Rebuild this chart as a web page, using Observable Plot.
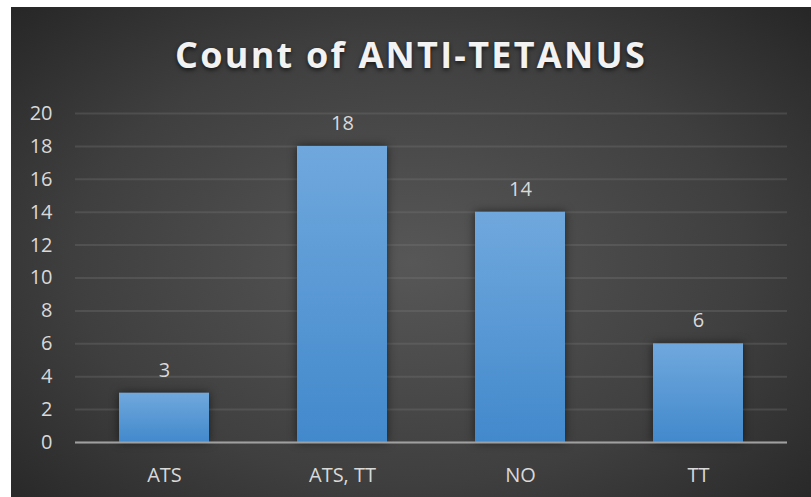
<!DOCTYPE html>
<html>
<head>
<meta charset="utf-8">
<script src="https://cdn.jsdelivr.net/npm/d3@7"></script>
<script src="https://cdn.jsdelivr.net/npm/@observablehq/plot@0.6"></script>
<style>
  html, body { margin: 0; padding: 0; background: #ffffff; width: 811px; height: 497px; overflow: hidden; }
  #panel {
    position: absolute; left: 11px; top: 7px; width: 800px; height: 490px;
    background: radial-gradient(ellipse 70% 75% at 50% 52%, #575757 0%, #3f3f3f 60%, #262626 100%);
    overflow: hidden;
  }
  #title {
    position: absolute; left: 0; top: 30px; width: 800px; text-align: center;
    font-family: "Open Sans", sans-serif; font-weight: 700; font-size: 36px; line-height: 36px;
    color: #f2f2f2; white-space: nowrap;
    text-shadow: 0 2px 4px rgba(0,0,0,0.65);
  }
  #chart { position: absolute; left: 0; top: 80px; }
</style>
</head>
<body>
<div id="panel">
  <div id="title"><span id="titleText">Count of ANTI-TETANUS</span></div>
  <div id="chart"></div>
</div>
<script>
const categories = ["ATS", "ATS, TT", "NO", "TT"];
const counts = [3, 18, 14, 6];
const yTicks = [0, 2, 4, 6, 8, 10, 12, 14, 16, 18, 20];

const data = categories.map((c, i) => ({category: c, count: counts[i]}));

// fit title width
const tt = document.getElementById("titleText");
const natural = tt.getBoundingClientRect().width;
const target = 472;
const chars = tt.textContent.length;
tt.style.letterSpacing = ((target - natural) / chars) + "px";

const plot = Plot.plot({
  width: 800,
  height: 410,
  marginLeft: 64,
  marginRight: 24,
  marginTop: 26,
  marginBottom: 55,
  style: {background: "transparent", fontFamily: "Open Sans, sans-serif", fontSize: "20px", color: "#d9d9d9", overflow: "visible"},
  x: {domain: categories, paddingInner: 0.494, paddingOuter: 0.247, label: null},
  y: {domain: [0, 20], label: null},
  marks: [
    Plot.gridY(yTicks, {stroke: "#7a7a7a", strokeOpacity: 0.3, strokeWidth: 2}),
    Plot.barY(data, {x: "category", y: "count", fill: "url(#barGrad)"}),
    Plot.ruleY([0], {stroke: "#a0a0a0", strokeWidth: 2}),
    Plot.axisY({ticks: yTicks, tickSize: 0, tickPadding: 23, fill: "#d9d9d9", fontSize: 20}),
    Plot.axisX({tickSize: 0, tickPadding: 25, fill: "#d9d9d9", fontSize: 20}),
    Plot.text(data, {x: "category", y: "count", text: d => String(d.count), dy: -23, fill: "#d9d9d9", fontSize: 20})
  ]
});

// gradient defs
const svg = d3.select(plot);
const defs = svg.insert("defs", ":first-child");
const grad = defs.append("linearGradient").attr("id", "barGrad")
  .attr("x1", 0).attr("y1", 0).attr("x2", 0).attr("y2", 1);
grad.append("stop").attr("offset", "0%").attr("stop-color", "#70a8dd");
grad.append("stop").attr("offset", "100%").attr("stop-color", "#4289cc");
svg.selectAll("rect").filter(function() { return this.getAttribute("fill") === "url(#barGrad)" || (this.parentNode && this.parentNode.getAttribute("fill") === "url(#barGrad)"); })
  .style("filter", "drop-shadow(0px 0px 5px rgba(0,0,0,0.55))");

document.getElementById("chart").appendChild(plot);
</script>
</body>
</html>
